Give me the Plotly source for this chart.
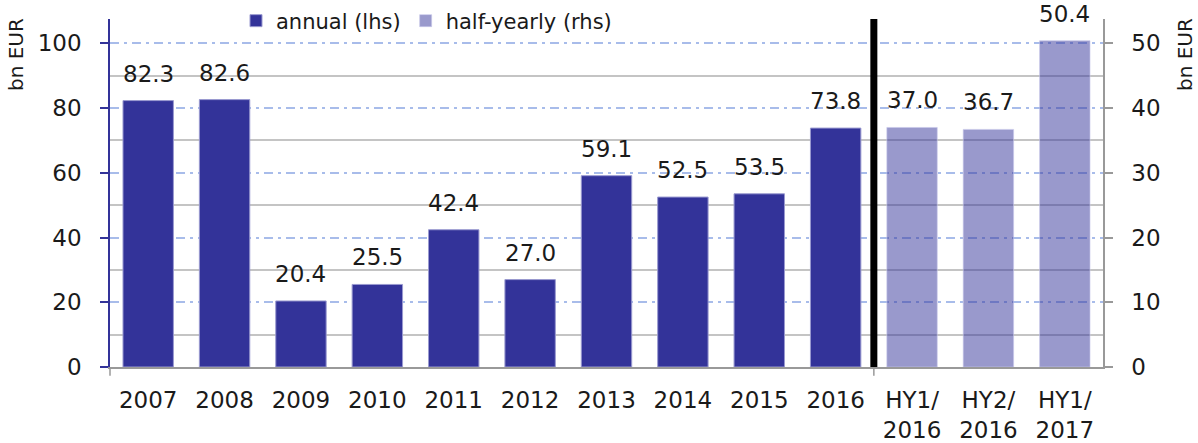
import plotly.graph_objects as go

categories = ["2007", "2008", "2009", "2010", "2011", "2012", "2013", "2014", "2015", "2016",
              "HY1/<br>2016", "HY2/<br>2016", "HY1/<br>2017"]
annual_values = [82.3, 82.6, 20.4, 25.5, 42.4, 27.0, 59.1, 52.5, 53.5, 73.8]
halfyear_values = [37.0, 36.7, 50.4]

x_annual = list(range(len(annual_values)))
x_half = list(range(len(annual_values), len(categories)))

FONT = "DejaVu Sans, sans-serif"
DARK = "#333399"
LIGHT = "rgba(51,51,153,0.5)"
TXT = "#1a1a1a"
FS = 23

fig = go.Figure()
fig.add_trace(go.Bar(
    x=x_annual, y=annual_values, name="annual (lhs)", yaxis="y",
    marker=dict(color=DARK, line=dict(color="#9a9ad0", width=1)),
    width=0.66,
))
fig.add_trace(go.Bar(
    x=x_half, y=halfyear_values, name="half-yearly (rhs)", yaxis="y2",
    marker=dict(color=LIGHT, line=dict(color="rgba(200,200,235,0.6)", width=1)),
    width=0.66,
))

L, R, T, B = 110, 95, 19, 76
W, H = 1198, 443
pw, ph = W - L - R, H - T - B

# value labels above bars
annotations = []
for xv, yv in zip(x_annual, annual_values):
    annotations.append(dict(x=xv, y=yv, xref="x", yref="y", text=f"{yv:.1f}",
                            showarrow=False, yanchor="middle", yshift=27,
                            font=dict(size=FS, color=TXT, family=FONT)))
for xv, yv in zip(x_half, halfyear_values):
    annotations.append(dict(x=xv, y=yv, xref="x", yref="y2", text=f"{yv:.1f}",
                            showarrow=False, yanchor="middle", yshift=27,
                            font=dict(size=FS, color=TXT, family=FONT)))
# axis titles (pixel positions converted to paper coords)
annotations.append(dict(x=(16 - L) / pw, y=(H - B - 55) / ph, xref="paper", yref="paper",
                        xanchor="center", yanchor="middle",
                        text="bn EUR", textangle=-90, showarrow=False,
                        font=dict(size=20, color=TXT, family=FONT)))
annotations.append(dict(x=(1185 - L) / pw, y=(H - B - 55) / ph, xref="paper", yref="paper",
                        xanchor="center", yanchor="middle",
                        text="bn EUR", textangle=-90, showarrow=False,
                        font=dict(size=20, color=TXT, family=FONT)))

# separator line between annual and half-yearly data
fig.add_shape(type="line", xref="x", yref="paper", x0=9.5, x1=9.5, y0=0, y1=1.0,
              line=dict(color="black", width=7), layer="above")
# small ticks below axis
fig.add_shape(type="line", xref="x", yref="paper", x0=9.5, x1=9.5, y0=0, y1=-0.025,
              line=dict(color="#999999", width=1.5), layer="above")
fig.add_shape(type="line", xref="paper", yref="paper", x0=0, x1=0, y0=0, y1=-0.025,
              line=dict(color="#999999", width=1.5), layer="above")

fig.update_layout(
    width=W, height=H,
    margin=dict(l=L, r=R, t=T, b=B, autoexpand=False),
    plot_bgcolor="white", paper_bgcolor="white",
    barmode="overlay",
    font=dict(family=FONT, size=FS, color=TXT),
    annotations=annotations,
    showlegend=True,
    legend=dict(orientation="h", x=(236 - L) / pw, y=(H - B - 21) / ph, xanchor="left", yanchor="middle",
                font=dict(size=21), bgcolor="rgba(0,0,0,0)", itemwidth=30,
                traceorder="normal"),
    xaxis=dict(range=[-0.5, 12.5], tickvals=list(range(len(categories))), ticktext=categories,
               showline=True, linecolor="#999999", linewidth=1.5, ticks="",
               showgrid=False, zeroline=False, tickfont=dict(size=FS), automargin=False,
               ticklabelstandoff=12),
    yaxis=dict(range=[0, 107.5], tickvals=[0, 20, 40, 60, 80, 100],
               showline=True, linecolor=DARK, linewidth=1.5, ticks="outside",
               tickcolor=DARK, ticklen=8, tickwidth=1.5, ticklabelstandoff=14,
               showgrid=True, gridcolor="#a8bcea", gridwidth=1.5,
               griddash="9px,5px,3px,5px", zeroline=False,
               minor=dict(tickvals=[10, 30, 50, 70, 90], showgrid=True,
                          gridcolor="#c4c4c4", gridwidth=1.5, griddash="solid", ticks=""),
               tickfont=dict(size=FS), automargin=False),
    yaxis2=dict(range=[0, 53.75], tickvals=[0, 10, 20, 30, 40, 50], overlaying="y", side="right",
                showline=True, linecolor="#999999", linewidth=1.5, ticks="outside",
                tickcolor="#999999", ticklen=8, tickwidth=1.5, ticklabelstandoff=14,
                showgrid=False, zeroline=False,
                tickfont=dict(size=FS), automargin=False),
)

fig.write_html("out.html", config={"displayModeBar": False},
               post_script="document.body.style.margin='0';document.body.style.overflow='hidden';")
